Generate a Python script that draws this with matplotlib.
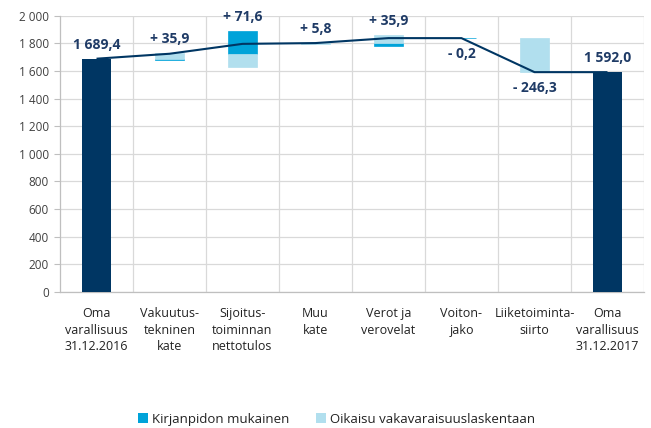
import matplotlib
matplotlib.use("Agg")
import matplotlib.pyplot as plt
from matplotlib.patches import Patch
import numpy as np

plt.rcParams['font.family'] = ['Open Sans', 'DejaVu Sans']

categories = ["Oma\nvarallisuus\n31.12.2016", "Vakuutus-\ntekninen\nkate",
              "Sijoitus-\ntoiminnan\nnettotulos", "Muu\nkate", "Verot ja\nverovelat",
              "Voiton-\njako", "Liiketoiminta-\nsiirto", "Oma\nvarallisuus\n31.12.2017"]
start_total = 1689.4
end_total = 1592.0
changes = [35.9, 71.6, 5.8, 35.9, -0.2, -246.3]
accounting = [-6.0, 166.0, 0.0, -22.0, -0.2, 0.0]      # Kirjanpidon mukainen
adjustment = [41.9, -94.4, 5.8, 57.9, 0.0, -246.3]     # Oikaisu vakavaraisuuslaskentaan
value_labels = ["1 689,4", "+ 35,9", "+ 71,6", "+ 5,8", "+ 35,9", "- 0,2", "- 246,3", "1 592,0"]
yticks = [0, 200, 400, 600, 800, 1000, 1200, 1400, 1600, 1800, 2000]
ytick_labels = ["0", "200", "400", "600", "800", "1 000", "1 200", "1 400", "1 600", "1 800", "2 000"]
legend_labels = ["Kirjanpidon mukainen", "Oikaisu vakavaraisuuslaskentaan"]

NAVY = "#003663"
MID = "#00a3d9"
LIGHT = "#b1dfee"
GRID = "#d9d9d9"
LABEL = "#1f3b66"

fig = plt.figure(figsize=(6.51, 4.28), dpi=100)
ax = fig.add_axes([0.0922, 0.318, 0.897, 0.645])

n = len(categories)
x = np.arange(n)
w = 0.4

cum = [start_total]
for c in changes:
    cum.append(cum[-1] + c)
cum.append(end_total)

# total bars
ax.bar([0, n - 1], [start_total, end_total], width=w, color=NAVY, zorder=3, linewidth=0)

tops = [start_total]
bottoms = [0]
for i, (a, b) in enumerate(zip(accounting, adjustment)):
    base = cum[i]
    up = base
    down = base
    for val, col in ((a, MID), (b, LIGHT)):
        if val == 0:
            continue
        if val > 0:
            ax.bar(i + 1, val, bottom=up, width=w, color=col, edgecolor=col, linewidth=0.5, zorder=3)
            up += val
        else:
            ax.bar(i + 1, val, bottom=down, width=w, color=col, edgecolor=col, linewidth=0.5, zorder=3)
            down += val
    tops.append(max(up, cum[i + 1]))
    bottoms.append(min(down, cum[i + 1]))
tops.append(end_total)

# cumulative line
ax.plot(x, cum, color=NAVY, linewidth=1.5, zorder=4, solid_capstyle='butt')

# value labels
vals = [start_total] + changes + [end_total]
for i, (v, lab) in enumerate(zip(vals, value_labels)):
    if 0 < i < n - 1 and v < 0:
        ax.annotate(lab, (i, bottoms[i]), xytext=(0, -11.5), textcoords='offset points',
                    ha='center', va='center', fontsize=10, fontweight='bold', color=LABEL, zorder=5)
    else:
        ax.annotate(lab, (i, tops[i]), xytext=(0, 10), textcoords='offset points',
                    ha='center', va='center', fontsize=10, fontweight='bold', color=LABEL, zorder=5)

ax.set_xlim(-0.5, n - 0.5)
ax.set_ylim(0, 2000)
ax.set_yticks(yticks)
ax.set_yticklabels(ytick_labels, fontsize=8.5, color="#404040")
ax.set_xticks(x)
ax.set_xticklabels(categories, fontsize=9, color="#222222", linespacing=1.35)
ax.set_xticks(np.arange(n) + 0.5, minor=True)
ax.tick_params(axis='x', which='both', length=0, pad=11)
ax.tick_params(axis='y', length=4, color="#bfbfbf", width=0.8, pad=4)
ax.grid(axis='y', color=GRID, linewidth=0.9, zorder=0)
ax.grid(axis='x', which='minor', color=GRID, linewidth=0.9, zorder=0)
ax.grid(axis='x', which='major', visible=False)
for s in ['top', 'right']:
    ax.spines[s].set_visible(False)
ax.spines['left'].set_color("#bfbfbf")
ax.spines['bottom'].set_color("#bfbfbf")
ax.spines['left'].set_linewidth(0.9)
ax.spines['bottom'].set_linewidth(0.9)
ax.set_axisbelow(True)

handles = [Patch(facecolor=MID, edgecolor='none'), Patch(facecolor=LIGHT, edgecolor='none')]
fig.legend(handles, legend_labels, loc='center', bbox_to_anchor=(0.517, 0.021), ncol=2,
           frameon=False, fontsize=9.5, handlelength=0.75, handleheight=0.75,
           handletextpad=0.3, columnspacing=2.0, labelcolor="#222222")

fig.savefig("out.png", dpi=100)
